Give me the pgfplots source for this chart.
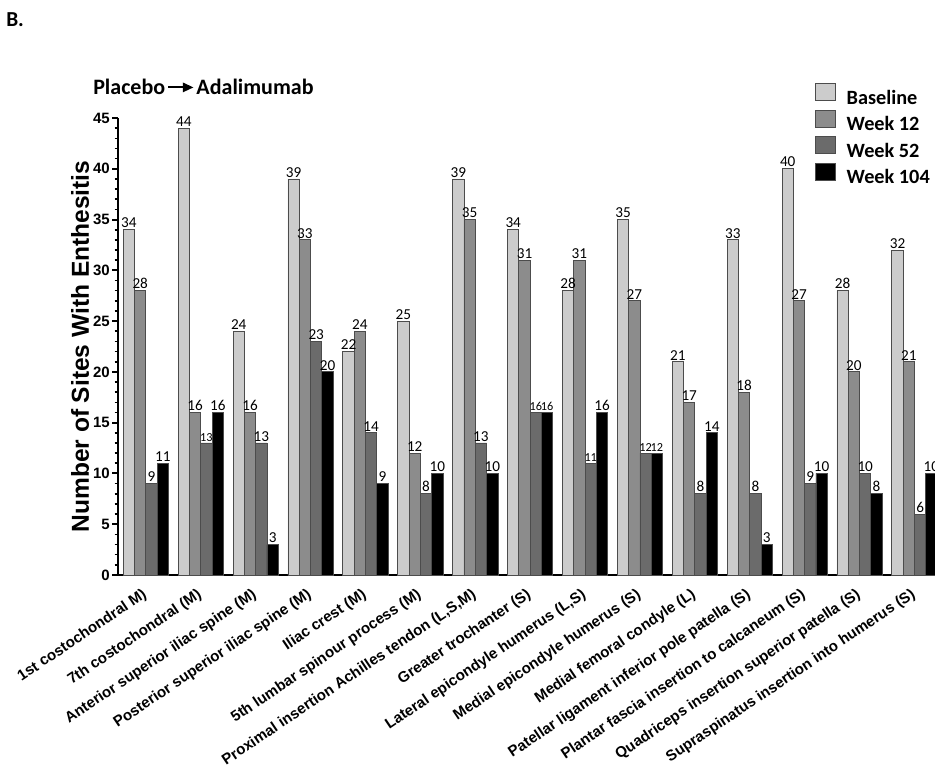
\documentclass[border=0pt]{standalone}
\usepackage{fontspec}
\setmainfont{Liberation Sans}
\newfontfamily\calibri{Carlito}
\usepackage{pgfplots}
\pgfplotsset{compat=1.18}
\usetikzlibrary{arrows.meta}

\definecolor{cBase}{gray}{0.80}
\definecolor{cW12}{gray}{0.55}
\definecolor{cW52}{gray}{0.42}
\definecolor{cW104}{gray}{0.0}

% labels that GraphPad shrank to fit between neighbouring bars
\newcommand\smalllab{\fontsize{9.2}{10}\selectfont}

\begin{document}
\begin{tikzpicture}
  \begin{axis}[
      at={(88.5pt,-431.25pt)}, anchor=south west,
      scale only axis, width=612.75pt, height=342.75pt,
      xmin=-0.508, xmax=14.374, ymin=0, ymax=45,
      axis x line*=bottom, axis y line*=left,
      axis line style={-, line width=2pt},
      ytick={0,5,...,45}, minor y tick num=4,
      tick align=outside,
      major tick length=4.5pt, minor tick length=2.6pt,
      every major tick/.append style={line width=1.5pt, black},
      every minor tick/.append style={line width=1.2pt, black},
      xtick={0,...,14},
      x tick style={draw=none},
      xticklabels={1st costochondral M), 7th costochondral (M), Anterior superior iliac spine (M),
        Posterior superior iliac spine (M), Iliac crest (M), 5th lumbar spinour process (M),
        {Proximal insertion Achilles tendon (L,S,M)}, Greater trochanter (S),
        {Lateral epicondyle humerus (L,S)}, Medial epicondyle humerus (S), Medial femoral condyle (L),
        Patellar ligament inferior pole patella (S), Plantar fascia insertion to calcaneum (S),
        Quadriceps insertion superior patella (S), Supraspinatus insertion into humerus (S)},
      xticklabel style={font=\bfseries\fontsize{11.3}{12}\selectfont, rotate=34, anchor=north east, inner sep=1pt, xshift=-4.5pt, yshift=-1pt},
      yticklabel style={font=\bfseries\fontsize{11.25}{12}\selectfont, inner sep=1.5pt},
      /pgf/number format/assume math mode=true,
      ylabel={Number of Sites With Enthesitis},
      ylabel style={font=\bfseries\fontsize{18.4}{20}\selectfont, at={(rel axis cs:-0.0465,0.5)}, anchor=center},
      ybar, bar width=0.206,
      every axis plot/.append style={draw=black!70, line width=0.6pt},
      nodes near coords,
      nodes near coords style={font=\calibri\fontsize{11.4}{12}\selectfont, anchor=south, inner sep=1pt, text=black},
      legend image code/.code={\draw[#1, draw=black!70, line width=0.6pt] (0pt,-2.3pt) rectangle (15pt,10.45pt);},
      legend style={draw=none, fill=none, at={(rel axis cs:0.853,1.077)}, anchor=north west,
        inner sep=0pt, row sep=3.7pt,
        nodes={inner sep=0.5pt, text height=10pt, text depth=0pt},
        font=\calibri\bfseries\fontsize{15.2}{16}\selectfont,
        /tikz/every odd column/.append style={column sep=7.5pt}},
      legend cell align=left,
    ]
    \addplot[fill=cBase, bar shift=-0.309] coordinates {
      (0,34) (1,44) (2,24) (3,39) (4,22) (5,25) (6,39) (7,34) (8,28) (9,35) (10,21) (11,33) (12,40) (13,28) (14,32)};
    \addplot[fill=cW12, bar shift=-0.103] coordinates {
      (0,28) (1,16) (2,16) (3,33) (4,24) (5,12) (6,35) (7,31) (8,31) (9,27) (10,17) (11,18) (12,27) (13,20) (14,21)};
    \addplot[fill=cW52, bar shift=0.103,
      nodes near coords={\ifnum\coordindex=1 \smalllab\fi\ifnum\coordindex=7 \smalllab\fi
        \ifnum\coordindex=8 \smalllab\fi\ifnum\coordindex=9 \smalllab\fi\pgfmathprintnumber{\pgfplotspointmeta}}]
      coordinates {
      (0,9) (1,13) (2,13) (3,23) (4,14) (5,8) (6,13) (7,16) (8,11) (9,12) (10,8) (11,8) (12,9) (13,10) (14,6)};
    \addplot[fill=cW104, bar shift=0.309,
      nodes near coords={\ifnum\coordindex=7 \smalllab\fi\ifnum\coordindex=9 \smalllab\fi\pgfmathprintnumber{\pgfplotspointmeta}}]
      coordinates {
      (0,11) (1,16) (2,3) (3,20) (4,9) (5,10) (6,10) (7,16) (8,16) (9,12) (10,14) (11,3) (12,10) (13,8) (14,10)};
    \legend{Baseline, Week 12, Week 52, Week 104}
  \end{axis}
  \node[anchor=base west, inner sep=0pt, font=\calibri\bfseries\fontsize{16}{18}\selectfont] at (4.5pt,-20pt) {B.};
  \node[anchor=base west, inner sep=0pt, font=\calibri\bfseries\fontsize{16.5}{18}\selectfont] at (69.75pt,-70.5pt)
    {Placebo\kern1.5pt\tikz[baseline]\draw[line width=1.5pt,-{Triangle[length=8pt,width=7pt]}] (0,0.3em)--(19pt,0.3em);\kern1.5pt Adalimumab};
  \pgfresetboundingbox
  \useasboundingbox (0,0) rectangle (701.25pt,-586.5pt);
\end{tikzpicture}
\end{document}
